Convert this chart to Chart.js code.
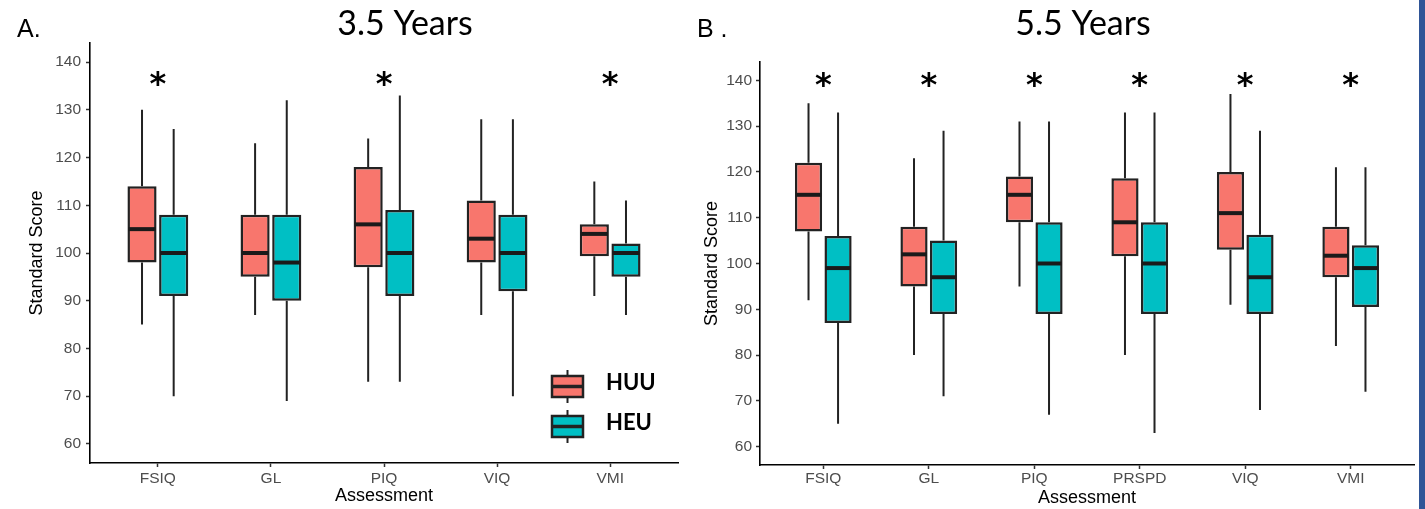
<!DOCTYPE html>
<html>
<head>
<meta charset="utf-8">
<script src="https://cdn.jsdelivr.net/npm/chart.js@4/dist/chart.umd.min.js"></script>
<style>
    body { margin: 0; background: #fff; width: 1425px; height: 509px; overflow: hidden; position: relative; }
    .panel { position: absolute; top: 0; height: 509px; }
    #wrapA { left: 0; width: 690px; }
    #wrapB { left: 690px; width: 729px; }
    #edge { position: absolute; left: 1419px; top: 0; width: 6px; height: 509px; background: #2f5597; }
</style>
</head>
<body>
<div class="panel" id="wrapA"><canvas id="chartA"></canvas></div>
<div class="panel" id="wrapB"><canvas id="chartB"></canvas></div>
<div id="edge"></div>
<script>
// box stats per category: [min, q1, median, q3, max]
const categoriesA = ['FSIQ', 'GL', 'PIQ', 'VIQ', 'VMI'];
const huuA = [[85, 98, 105, 114, 130], [87, 95, 100, 108, 123], [73, 97, 106, 118, 124], [87, 98, 103, 111, 128], [91, 99.3, 104, 106, 115]];
const heuA = [[70, 91, 100, 108, 126], [69, 90, 98, 108, 132], [73, 91, 100, 109, 133], [70, 92, 100, 108, 128], [87, 95, 100, 102, 111]];
const starsA = [true, false, true, false, true];

const categoriesB = ['FSIQ', 'GL', 'PIQ', 'PRSPD', 'VIQ', 'VMI'];
const huuB = [[92, 107, 115, 122, 135], [80, 95, 102, 108, 123], [95, 109, 115, 119, 131], [80, 101.6, 109, 118.6, 133], [91, 103, 111, 120, 137], [82, 97, 101.7, 108, 121]];
const heuB = [[65, 87, 99, 106, 133], [71, 89, 97, 105, 129], [67, 89, 100, 109, 131], [63, 89, 100, 109, 133], [68, 89, 97, 106.3, 129], [72, 90.5, 99, 104, 121]];
const starsB = [true, true, true, true, true, true];

const yTicks = [60, 70, 80, 90, 100, 110, 120, 130, 140];
const groups = ['HUU', 'HEU'];
const groupColors = ['#F8766D', '#00BFC4'];

const LINE = '#222222';

const boxPlugin = {
    id: 'boxes',
    beforeDatasetsDraw(chart) {
        const ctx = chart.ctx;
        const y = chart.scales.y;
        ctx.save();
        ctx.strokeStyle = LINE;
        ctx.lineWidth = 2;
        chart.data.datasets.forEach((ds, di) => {
            chart.getDatasetMeta(di).data.forEach((el, i) => {
                const s = ds.stats[i];
                ctx.beginPath();
                ctx.moveTo(el.x, y.getPixelForValue(s[0]));
                ctx.lineTo(el.x, y.getPixelForValue(s[1]));
                ctx.moveTo(el.x, y.getPixelForValue(s[3]));
                ctx.lineTo(el.x, y.getPixelForValue(s[4]));
                ctx.stroke();
            });
        });
        ctx.restore();
    },
    afterDatasetsDraw(chart, args, opts) {
        const ctx = chart.ctx;
        const y = chart.scales.y;
        const x = chart.scales.x;
        const ca = chart.chartArea;
        ctx.save();
        // medians
        ctx.strokeStyle = '#1a1a1a';
        ctx.lineWidth = 4;
        chart.data.datasets.forEach((ds, di) => {
            chart.getDatasetMeta(di).data.forEach((el, i) => {
                const my = y.getPixelForValue(ds.stats[i][2]);
                ctx.beginPath();
                ctx.moveTo(el.x - el.width / 2 + 1, my);
                ctx.lineTo(el.x + el.width / 2 - 1, my);
                ctx.stroke();
            });
        });

        // significance stars
        ctx.fillStyle = '#000';
        ctx.font = 'bold 32px "DejaVu Sans"';
        ctx.textAlign = 'center';
        ctx.textBaseline = 'alphabetic';
        const m = ctx.measureText('*');
        const shift = (m.actualBoundingBoxAscent - m.actualBoundingBoxDescent) / 2;
        opts.stars.forEach((on, i) => {
            if (!on) return;
            ctx.fillText('*', x.getPixelForValue(i), y.getPixelForValue(opts.starValue) + shift);
        });

        // legend (inside the plot, bottom right)
        if (opts.legend) {
            const kx = ca.right - 126;
            groups.forEach((g, gi) => {
                const top = ca.bottom - 87 + gi * 40;
                const cx = kx + 15.5;
                ctx.strokeStyle = LINE;
                ctx.lineWidth = 2;
                ctx.beginPath();
                ctx.moveTo(cx, top - 6);
                ctx.lineTo(cx, top + 27);
                ctx.stroke();
                ctx.fillStyle = groupColors[gi];
                ctx.fillRect(kx, top, 31, 21);
                ctx.lineWidth = 2.5;
                ctx.strokeRect(kx, top, 31, 21);
                ctx.lineWidth = 3.5;
                ctx.beginPath();
                ctx.moveTo(kx, top + 10.5);
                ctx.lineTo(kx + 31, top + 10.5);
                ctx.stroke();
                ctx.fillStyle = '#000';
                ctx.font = 'bold 22px Lato';
                ctx.textAlign = 'left';
                ctx.fillText(g, kx + 54, top + 14);
            });
        }
        ctx.restore();
    },
    afterDraw(chart, args, opts) {
        const ctx = chart.ctx;
        ctx.save();
        ctx.fillStyle = '#000';
        ctx.textBaseline = 'alphabetic';
        ctx.textAlign = 'left';
        ctx.font = '25px "Liberation Sans"';
        ctx.fillText(opts.tag, opts.tagX, 37);
        ctx.textAlign = 'center';
        ctx.font = '34px Lato';
        ctx.fillText(opts.title, opts.titleX, 35);
        ctx.restore();
    }
};

function makeChart(canvasId, cats, huu, heu, cfg) {
    const sets = [huu, heu];
    return new Chart(document.getElementById(canvasId), {
        type: 'bar',
        data: {
            datasets: sets.map((stats, gi) => ({
                label: groups[gi],
                data: stats.map((s, i) => ({x: i, y: [s[1], s[3]]})),
                stats: stats,
                backgroundColor: groupColors[gi],
                borderColor: LINE,
                borderWidth: 2.5,
                borderSkipped: false,
                categoryPercentage: 0.56,
                barPercentage: 0.92
            }))
        },
        options: {
            responsive: true,
            maintainAspectRatio: false,
            animation: false,
            layout: {padding: cfg.padding},
            plugins: {
                legend: {display: false},
                tooltip: {enabled: false},
                boxes: {
                    stars: cfg.stars,
                    starValue: cfg.starValue,
                    legend: cfg.legend,
                    tag: cfg.tag,
                    tagX: cfg.tagX,
                    title: cfg.title,
                    titleX: cfg.titleX
                }
            },
            scales: {
                x: {
                    type: 'linear',
                    min: -0.6,
                    max: cats.length - 0.4,
                    offset: false,
                    afterBuildTicks: axis => { axis.ticks = cats.map((c, i) => ({value: i})); },
                    afterFit: scale => { scale.height = cfg.xHeight; },
                    grid: {offset: false, drawOnChartArea: false, tickLength: 4, tickColor: '#333', tickWidth: 1.5},
                    border: {display: true, color: '#000', width: 1.6},
                    ticks: {
                        autoSkip: false, maxRotation: 0, padding: cfg.xTickPad,
                        color: '#4d4d4d', font: {family: 'Liberation Sans', size: 15.5},
                        callback: v => cats[v]
                    },
                    title: {
                        display: true, text: 'Assessment', color: '#000',
                        font: {family: 'Liberation Sans', size: 18},
                        padding: {top: 0, bottom: cfg.xTitlePad}
                    }
                },
                y: {
                    min: 56,
                    max: 144,
                    afterBuildTicks: axis => { axis.ticks = yTicks.map(v => ({value: v})); },
                    afterFit: scale => { scale.width = cfg.yWidth; },
                    grid: {drawOnChartArea: false, tickLength: 4, tickColor: '#333', tickWidth: 1.5},
                    border: {display: true, color: '#000', width: 1.6},
                    ticks: {
                        padding: cfg.yTickPad, color: '#4d4d4d',
                        font: {family: 'Liberation Sans', size: 15.5},
                        callback: v => String(v)
                    },
                    title: {
                        display: true, text: 'Standard Score', color: '#000',
                        font: {family: 'Liberation Sans', size: 18},
                        padding: {top: cfg.yTitlePad, bottom: 0}
                    }
                }
            }
        },
        plugins: [boxPlugin]
    });
}

makeChart('chartA', categoriesA, huuA, heuA, {
    padding: {left: 0, right: 12, top: 43, bottom: 0},
    yWidth: 90, xHeight: 46, yTickPad: 5, xTickPad: 2, yTitlePad: 26, xTitlePad: 2,
    stars: starsA, starValue: 136.5, legend: true,
    tag: 'A.', tagX: 17, title: '3.5 Years', titleX: 405
});

makeChart('chartB', categoriesB, huuB, heuB, {
    padding: {left: 0, right: 5, top: 62, bottom: 0},
    yWidth: 70, xHeight: 44, yTickPad: 4, xTickPad: 0, yTitlePad: 11, xTitlePad: 0,
    stars: starsB, starValue: 140.2, legend: false,
    tag: 'B .', tagX: 7, title: '5.5 Years', titleX: 393
});
</script>
</body>
</html>
